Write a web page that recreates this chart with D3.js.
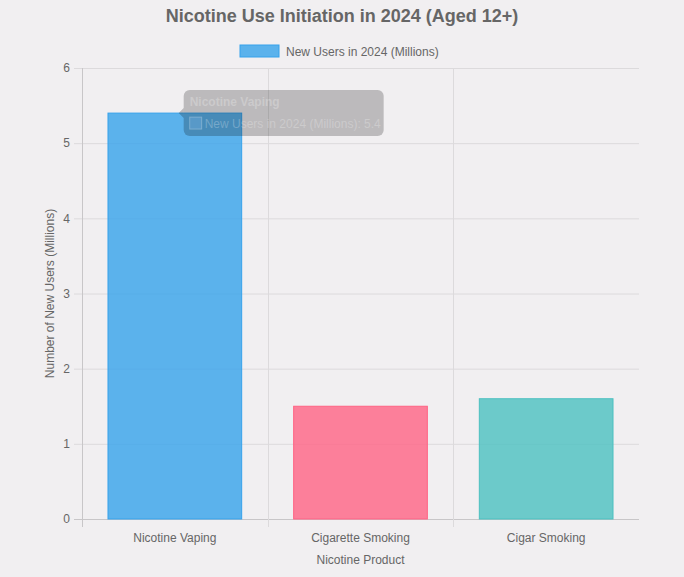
<!DOCTYPE html>
<html>
<head>
<meta charset="utf-8">
<script src="https://cdn.jsdelivr.net/npm/d3@7"></script>
<style>
  html, body { margin: 0; padding: 0; background: #f1eff1; }
  #chart { width: 684px; height: 577px; }
  text { font-family: "Liberation Sans", Arial, Helvetica, sans-serif; }
</style>
</head>
<body>
<div id="chart"></div>
<script>
// Chart data
const categories = ["Nicotine Vaping", "Cigarette Smoking", "Cigar Smoking"];
const newUsers = [5.4, 1.5, 1.6];
const yTicks = [0, 1, 2, 3, 4, 5, 6];
const seriesName = "New Users in 2024 (Millions)";
const barFill = ["rgba(54,162,235,0.8)", "rgba(255,99,132,0.8)", "rgba(75,192,192,0.8)"];
const barStroke = ["rgb(54,162,235)", "rgb(255,99,132)", "rgb(75,192,192)"];

const width = 684, height = 577;
const margin = { top: 68, right: 45, bottom: 58, left: 82 };
const innerW = width - margin.left - margin.right;
const innerH = height - margin.top - margin.bottom;

const svg = d3.select("#chart")
    .append("svg")
    .attr("width", width)
    .attr("height", height);

// Title
svg.append("text")
    .attr("x", width / 2)
    .attr("y", 22)
    .attr("text-anchor", "middle")
    .style("font-size", "18px")
    .style("font-weight", "bold")
    .style("fill", "#666")
    .text("Nicotine Use Initiation in 2024 (Aged 12+)");

// Legend
const legend = svg.append("g").attr("transform", "translate(240,45)");
legend.append("rect")
    .attr("width", 39).attr("height", 12)
    .attr("fill", barFill[0])
    .attr("stroke", barStroke[0]).attr("stroke-width", 1);
legend.append("text")
    .attr("x", 46).attr("y", 10.5)
    .style("font-size", "12px")
    .style("fill", "#666")
    .text(seriesName);

const g = svg.append("g")
    .attr("transform", `translate(${margin.left},${margin.top})`);

const x = d3.scaleBand()
    .domain(categories)
    .range([0, innerW]);

const y = d3.scaleLinear()
    .domain([0, 6])
    .range([innerH, 0]);

// Horizontal grid + y ticks
g.selectAll("line.hgrid")
    .data(yTicks)
    .enter()
    .append("line")
    .attr("class", "hgrid")
    .attr("x1", -8)
    .attr("x2", innerW)
    .attr("y1", d => y(d) + 0.5)
    .attr("y2", d => y(d) + 0.5)
    .style("stroke", d => d === 0 ? "#c8c6c8" : "#dcdadc")
    .style("stroke-width", 1);

// Vertical grid at category boundaries
const boundaries = categories.map(c => x(c));
g.selectAll("line.vgrid")
    .data(boundaries)
    .enter()
    .append("line")
    .attr("class", "vgrid")
    .attr("x1", d => Math.round(d) + 0.5)
    .attr("x2", d => Math.round(d) + 0.5)
    .attr("y1", 0)
    .attr("y2", innerH + 8)
    .style("stroke", (d, i) => i === 0 ? "#c8c6c8" : "#dcdadc")
    .style("stroke-width", 1);

// Y tick labels
g.selectAll("text.ylab")
    .data(yTicks)
    .enter()
    .append("text")
    .attr("class", "ylab")
    .attr("x", -12)
    .attr("y", d => y(d))
    .attr("dy", "0.35em")
    .attr("text-anchor", "end")
    .style("font-size", "12px")
    .style("fill", "#666")
    .text(d => d);

// X tick labels
g.selectAll("text.xlab")
    .data(categories)
    .enter()
    .append("text")
    .attr("class", "xlab")
    .attr("x", d => x(d) + x.bandwidth() / 2)
    .attr("y", innerH + 23)
    .attr("text-anchor", "middle")
    .style("font-size", "12px")
    .style("fill", "#666")
    .text(d => d);

// Bars (categoryPercentage 0.8 * barPercentage 0.9)
const barW = x.bandwidth() * 0.72;
g.selectAll("rect.bar")
    .data(newUsers)
    .enter()
    .append("rect")
    .attr("class", "bar")
    .attr("x", (d, i) => x(categories[i]) + (x.bandwidth() - barW) / 2)
    .attr("y", d => y(d))
    .attr("width", barW)
    .attr("height", d => innerH - y(d))
    .attr("fill", (d, i) => barFill[i])
    .attr("stroke", (d, i) => barStroke[i])
    .attr("stroke-width", 1);

// Axis titles
svg.append("text")
    .attr("x", margin.left + innerW / 2)
    .attr("y", margin.top + innerH + 45)
    .attr("text-anchor", "middle")
    .style("font-size", "12px")
    .style("fill", "#666")
    .text("Nicotine Product");

svg.append("text")
    .attr("transform", `translate(54,${margin.top + innerH / 2}) rotate(-90)`)
    .attr("text-anchor", "middle")
    .style("font-size", "12px")
    .style("fill", "#666")
    .text("Number of New Users (Millions)");

// Tooltip (fading, hovering on first bar)
const barRight = x(categories[0]) + (x.bandwidth() + barW) / 2;
const tipX = margin.left + barRight - 63;
const tipY = margin.top + y(newUsers[0]);
const tip = svg.append("g").attr("transform", `translate(${tipX},${tipY})`);
const tipW = 200, tipH = 46;
tip.append("path")
    .attr("d", `M0,0 L5,-5 L5,5 Z`)
    .attr("fill", "rgba(0,0,0,0.22)");
tip.append("rect")
    .attr("x", 5).attr("y", -23)
    .attr("width", tipW).attr("height", tipH)
    .attr("rx", 6)
    .attr("fill", "rgba(0,0,0,0.22)");
tip.append("text")
    .attr("x", 11).attr("y", -7)
    .style("font-size", "12px")
    .style("font-weight", "bold")
    .style("fill", "rgba(255,255,255,0.25)")
    .text(categories[0]);
tip.append("rect")
    .attr("x", 11).attr("y", 4)
    .attr("width", 12).attr("height", 12)
    .attr("fill", "rgba(120,180,230,0.35)")
    .attr("stroke", "rgba(255,255,255,0.25)");
tip.append("text")
    .attr("x", 26).attr("y", 14.5)
    .style("font-size", "12px")
    .style("fill", "rgba(255,255,255,0.25)")
    .text(`${seriesName}: ${newUsers[0]}`);
</script>
</body>
</html>
